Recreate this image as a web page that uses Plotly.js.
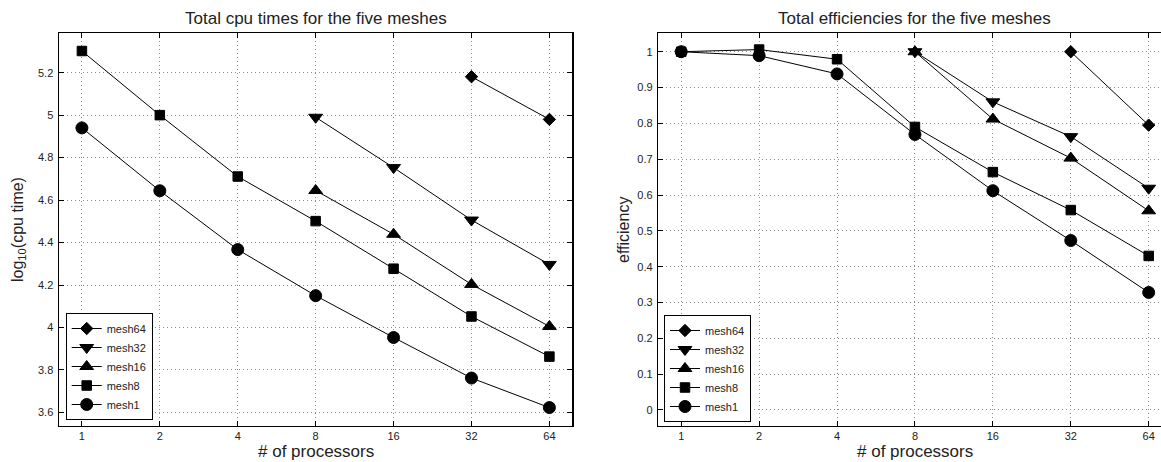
<!DOCTYPE html>
<html>
<head>
<meta charset="utf-8">
<script src="https://cdn.plot.ly/plotly-3.0.1.min.js"></script>
<style>
html,body{margin:0;padding:0;overflow:hidden;background:#fff;}
#chart{width:1174px;height:462px;}
</style>
</head>
<body>
<div id="chart"></div>
<script>
// ---- data ----
const procsAll = [1, 2, 4, 8, 16, 32, 64];
const procsFrom8 = [8, 16, 32, 64];
const procsFrom32 = [32, 64];
const meshNames = ["mesh64", "mesh32", "mesh16", "mesh8", "mesh1"];

const cpuMesh64 = [5.181, 4.980];
const cpuMesh32 = [4.990, 4.753, 4.506, 4.297];
const cpuMesh16 = [4.645, 4.439, 4.203, 4.005];
const cpuMesh8  = [5.302, 5.000, 4.711, 4.501, 4.277, 4.052, 3.863];
const cpuMesh1  = [4.940, 4.644, 4.367, 4.150, 3.953, 3.762, 3.623];

const effMesh64 = [1.000, 0.795];
const effMesh32 = [1.000, 0.860, 0.763, 0.619];
const effMesh16 = [1.000, 0.812, 0.703, 0.556];
const effMesh8  = [1.000, 1.006, 0.979, 0.790, 0.664, 0.558, 0.430];
const effMesh1  = [1.000, 0.989, 0.938, 0.769, 0.612, 0.473, 0.328];

const xTickVals = [1, 2, 4, 8, 16, 32, 64];
const xTickText = ["1", "2", "4", "8", "16", "32", "64"];
const cpuTickVals = [3.6, 3.8, 4.0, 4.2, 4.4, 4.6, 4.8, 5.0, 5.2];
const cpuTickText = ["3.6", "3.8", "4", "4.2", "4.4", "4.6", "4.8", "5", "5.2"];
const effTickVals = [0, 0.1, 0.2, 0.3, 0.4, 0.5, 0.6, 0.7, 0.8, 0.9, 1];
const effTickText = ["0", "0.1", "0.2", "0.3", "0.4", "0.5", "0.6", "0.7", "0.8", "0.9", "1"];

// ---- styling ----
const W = 1174, H = 462;
const FONT = '"Liberation Sans", Arial, Helvetica, sans-serif';
const TXT = '#222';
const markerSpec = {
  mesh64: {symbol: 'diamond', size: 9.5},
  mesh32: {symbol: 'triangle-down', size: 12},
  mesh16: {symbol: 'triangle-up', size: 12},
  mesh8:  {symbol: 'square', size: 9.5},
  mesh1:  {symbol: 'circle', size: 12}
};

function mk(name, x, y, xa, ya, leg) {
  return {
    type: 'scatter', mode: 'lines+markers', name: name, x: x, y: y,
    xaxis: xa, yaxis: ya, legend: leg,
    line: {color: '#000', width: 1},
    marker: {color: '#000', symbol: markerSpec[name].symbol, size: markerSpec[name].size,
             line: {color: '#000', width: 1}}
  };
}

const cpuSeries = [cpuMesh64, cpuMesh32, cpuMesh16, cpuMesh8, cpuMesh1];
const effSeries = [effMesh64, effMesh32, effMesh16, effMesh8, effMesh1];
const xFor = [procsFrom32, procsFrom8, procsFrom8, procsAll, procsAll];

const traces = [];
for (let i = 0; i < meshNames.length; i++) traces.push(mk(meshNames[i], xFor[i], cpuSeries[i], 'x', 'y', 'legend'));
for (let i = 0; i < meshNames.length; i++) traces.push(mk(meshNames[i], xFor[i], effSeries[i], 'x2', 'y2', 'legend2'));

const px = v => v / W;
const py = v => 1 - v / H;
const yDom = [py(425.5), py(33.3)];

const GRID = {showgrid: true, gridcolor: '#8c8c8c', griddash: '1px,3px', gridwidth: 1};

function xAxis(dom, anchor) {
  return Object.assign({
    domain: dom, type: 'log', range: [-0.0885, 1.8935], anchor: anchor,
    tickvals: xTickVals, ticktext: xTickText,
    ticks: 'inside', ticklen: 5, tickcolor: '#000', tickwidth: 1,
    showline: true, linecolor: '#000', linewidth: 1.5, mirror: 'ticks',
    zeroline: false, tickfont: {family: FONT, size: 11, color: TXT},
    ticklabelstandoff: 0
  }, GRID);
}
function yAxis(range, tv, tt, anchor) {
  return Object.assign({
    domain: yDom, range: range, anchor: anchor,
    tickvals: tv, ticktext: tt,
    ticks: 'inside', ticklen: 5, tickcolor: '#000', tickwidth: 1,
    showline: true, linecolor: '#000', linewidth: 1.5, mirror: 'ticks',
    zeroline: false, tickfont: {family: FONT, size: 11, color: TXT},
    ticklabelstandoff: 2
  }, GRID);
}

const legendStyle = (x, y) => ({
  x: x, y: y, xanchor: 'left', yanchor: 'bottom',
  bgcolor: '#fff', bordercolor: '#000', borderwidth: 1,
  font: {family: FONT, size: 11, color: TXT},
  tracegroupgap: 0, itemclick: false
});

const layout = {
  width: W, height: H,
  margin: {l: 0, r: 0, t: 0, b: 0},
  paper_bgcolor: '#fff', plot_bgcolor: '#fff',
  showlegend: true,
  xaxis: xAxis([px(59), px(572)], 'y'),
  yaxis: yAxis([3.5386, 5.3854], cpuTickVals, cpuTickText, 'x'),
  xaxis2: xAxis([px(658.3), px(1171.3)], 'y2'),
  yaxis2: yAxis([-0.0433, 1.0514], effTickVals, effTickText, 'x2'),
  legend: legendStyle(px(65.7), py(420)),
  legend2: legendStyle(px(664), py(422)),
  annotations: [
    {text: 'Total cpu times for the five meshes', x: px(315.5), y: py(18.5), xref: 'paper', yref: 'paper',
     showarrow: false, xanchor: 'center', yanchor: 'middle', font: {family: FONT, size: 17, color: TXT}},
    {text: 'Total efficiencies for the five meshes', x: px(914.8), y: py(18.5), xref: 'paper', yref: 'paper',
     showarrow: false, xanchor: 'center', yanchor: 'middle', font: {family: FONT, size: 17, color: TXT}},
    {text: '# of processors', x: px(315.5), y: py(451.5), xref: 'paper', yref: 'paper',
     showarrow: false, xanchor: 'center', yanchor: 'middle', font: {family: FONT, size: 17, color: TXT}},
    {text: '# of processors', x: px(914.8), y: py(451.5), xref: 'paper', yref: 'paper',
     showarrow: false, xanchor: 'center', yanchor: 'middle', font: {family: FONT, size: 17, color: TXT}},
    {text: 'log<sub>10</sub>(cpu time)', x: px(18), y: py(230), xref: 'paper', yref: 'paper', textangle: -90,
     showarrow: false, xanchor: 'center', yanchor: 'middle', font: {family: FONT, size: 16, color: TXT}},
    {text: 'efficiency', x: px(623), y: py(230), xref: 'paper', yref: 'paper', textangle: -90,
     showarrow: false, xanchor: 'center', yanchor: 'middle', font: {family: FONT, size: 16, color: TXT}}
  ]
};

Plotly.newPlot('chart', traces, layout, {staticPlot: true, displayModeBar: false});
</script>
</body>
</html>
